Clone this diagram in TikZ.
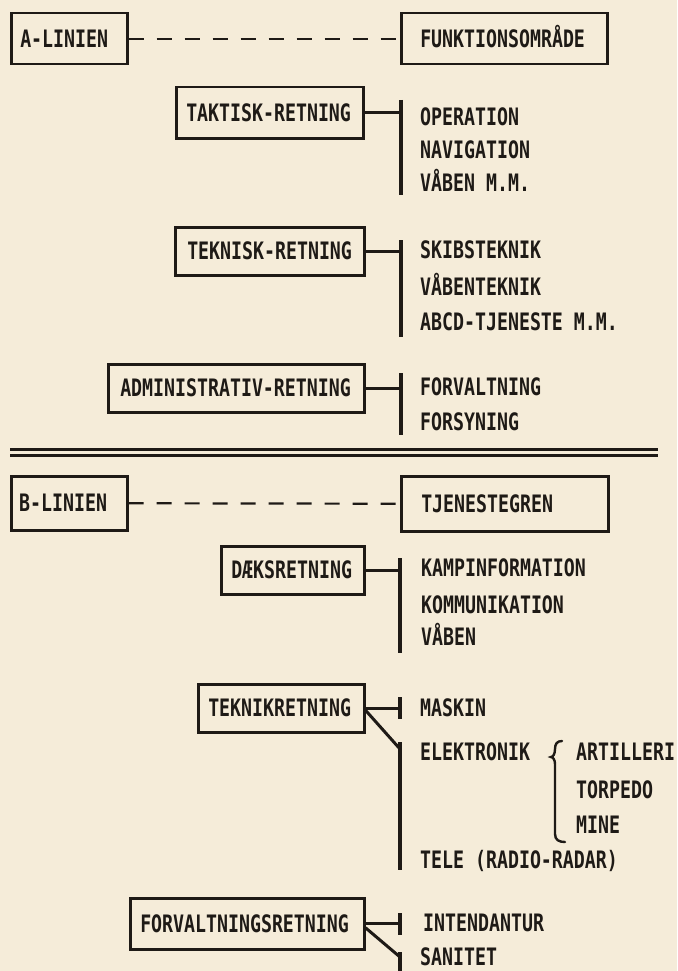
\documentclass[tikz,border=0pt]{standalone}
\usepackage{fontspec}
\newfontfamily\prfont[FakeStretch=0.76]{DejaVu Sans Mono}
\definecolor{paper}{HTML}{F5ECD9}
\definecolor{ink}{HTML}{1E1A16}
\begin{document}
\begin{tikzpicture}[x=1pt,y=-1pt,
  every node/.style={font=\prfont\bfseries\fontsize{24}{26}\selectfont, text=ink, inner sep=0pt, text height=17pt, text depth=0pt},
  item/.style={anchor=west},
  box/.style={draw=ink, line width=2.5pt, anchor=north west, align=left},
  conn/.style={draw=ink, line width=3pt},
  bar/.style={draw=ink, line width=4pt},
  dashline/.style={draw=ink, line width=2.2pt, dash pattern=on 15pt off 13pt},
  rule/.style={draw=ink, line width=2.3pt},
  brace/.style={draw=ink, line width=2.4pt, line cap=round}]
\fill[paper] (0,0) rectangle (677,971);
\useasboundingbox (0,0) rectangle (677,971);

% ---------- A-LINIEN ----------
\node[box, minimum width=116pt, minimum height=51pt, inner xsep=9pt, text width=98pt] (alin) at (10,12) {A-LINIEN};
\node[box, minimum width=206pt, minimum height=51pt, inner xsep=19pt, text width=168pt] (funk) at (400,12) {FUNKTIONSOMRÅDE};
\draw[dashline] (alin.east) -- (funk.west);

\node[box, minimum width=187pt, minimum height=51pt, inner xsep=10pt, text width=167pt] (tak) at (175,86) {TAKTISK-RETNING};
\coordinate (b1t) at (401,100);
\coordinate (b1b) at (401,195);
\draw[bar] (b1t) -- (b1b);
\draw[conn] (tak.east) -- (tak.east -| b1t);
\node[item] (op) at (420,117) {OPERATION};
\node[item] (nav) at (420,150) {NAVIGATION};
\node[item] (vab1) at (420,183) {VÅBEN M.M.};

\node[box, minimum width=189pt, minimum height=48pt, inner xsep=12pt, text width=165pt] (tek) at (174,226) {TEKNISK-RETNING};
\coordinate (b2t) at (401,240);
\coordinate (b2b) at (401,337);
\draw[bar] (b2t) -- (b2b);
\draw[conn] (tek.east) -- (tek.east -| b2t);
\node[item] (skib) at (420,250) {SKIBSTEKNIK};
\node[item] (vabt) at (420,287) {VÅBENTEKNIK};
\node[item] (abcd) at (420,322) {ABCD-TJENESTE M.M.};

\node[box, minimum width=256pt, minimum height=48pt, inner xsep=12pt, text width=232pt] (adm) at (107,363) {ADMINISTRATIV-RETNING};
\coordinate (b3t) at (401,373);
\coordinate (b3b) at (401,435);
\draw[bar] (b3t) -- (b3b);
\draw[conn] (adm.east) -- (adm.east -| b3t);
\node[item] (forv1) at (420,387) {FORVALTNING};
\node[item] (fors) at (420,422) {FORSYNING};

% ---------- double rule ----------
\coordinate (r1a) at (10,449.5);
\coordinate (r1b) at (658,449.5);
\coordinate (r2a) at (10,455.5);
\coordinate (r2b) at (658,455.5);
\draw[rule] (r1a) -- (r1b);
\draw[rule] (r2a) -- (r2b);

% ---------- B-LINIEN ----------
\node[box, minimum width=116pt, minimum height=54pt, inner xsep=8pt, text width=100pt] (blin) at (10,475) {B-LINIEN};
\node[box, minimum width=207pt, minimum height=55pt, inner xsep=20pt, text width=167pt] (tjen) at (400,475) {TJENESTEGREN};
\draw[dashline] (blin.east) -- (tjen.west);

\node[box, minimum width=143pt, minimum height=48pt, inner xsep=10pt, text width=123pt] (daek) at (220,545) {DÆKSRETNING};
\coordinate (b4t) at (400,558);
\coordinate (b4b) at (400,653);
\draw[bar] (b4t) -- (b4b);
\draw[conn] (daek.east) -- (daek.east -| b4t);
\node[item] (kamp) at (421,568) {KAMPINFORMATION};
\node[item] (komm) at (421,605) {KOMMUNIKATION};
\node[item] (vab2) at (421,637) {VÅBEN};

\node[box, minimum width=166pt, minimum height=48pt, inner xsep=10pt, text width=146pt] (tekn) at (197,683) {TEKNIKRETNING};
\coordinate (m1) at (400,697);
\coordinate (m2) at (400,719);
\draw[bar] (m1) -- (m2);
\draw[conn] (tekn.east) -- (tekn.east -| m1);
\coordinate (e1) at (400,742);
\coordinate (e2) at (400,870);
\coordinate (ed) at (400,749);
\draw[bar] (e1) -- (e2);
\draw[conn] ([yshift=-2pt]tekn.east) -- (ed);
\node[item] (mask) at (420,708) {MASKIN};
\node[item] (elek) at (420,752) {ELEKTRONIK};
\node[item] (tele) at (420,860) {TELE (RADIO-RADAR)};
\draw[brace] (562,741) .. controls (557,741) and (555,744) .. (555,749)
  .. controls (555,754) and (553,757) .. (551,757)
  .. controls (553,757) and (555,760) .. (555,764)
  -- (555,834) .. controls (555,840) and (559,842) .. (565,842);
\node[item] (art) at (576,752) {ARTILLERI};
\node[item] (torp) at (576,790) {TORPEDO};
\node[item] (mine) at (576,825) {MINE};

\node[box, minimum width=234pt, minimum height=51pt, inner xsep=10pt, text width=214pt] (forv) at (129,897) {FORVALTNINGSRETNING};
\coordinate (i1) at (400,913);
\coordinate (i2) at (400,935);
\draw[bar] (i1) -- (i2);
\draw[conn] (forv.east) -- (forv.east -| i1);
\coordinate (s1) at (400,952);
\coordinate (s2) at (400,971);
\coordinate (sd) at (400,957);
\draw[bar] (s1) -- (s2);
\draw[conn] ([yshift=-4pt]forv.east) -- (sd);
\node[item] (int) at (423,923) {INTENDANTUR};
\node[item] (san) at (420,957) {SANITET};
\end{tikzpicture}
\end{document}
